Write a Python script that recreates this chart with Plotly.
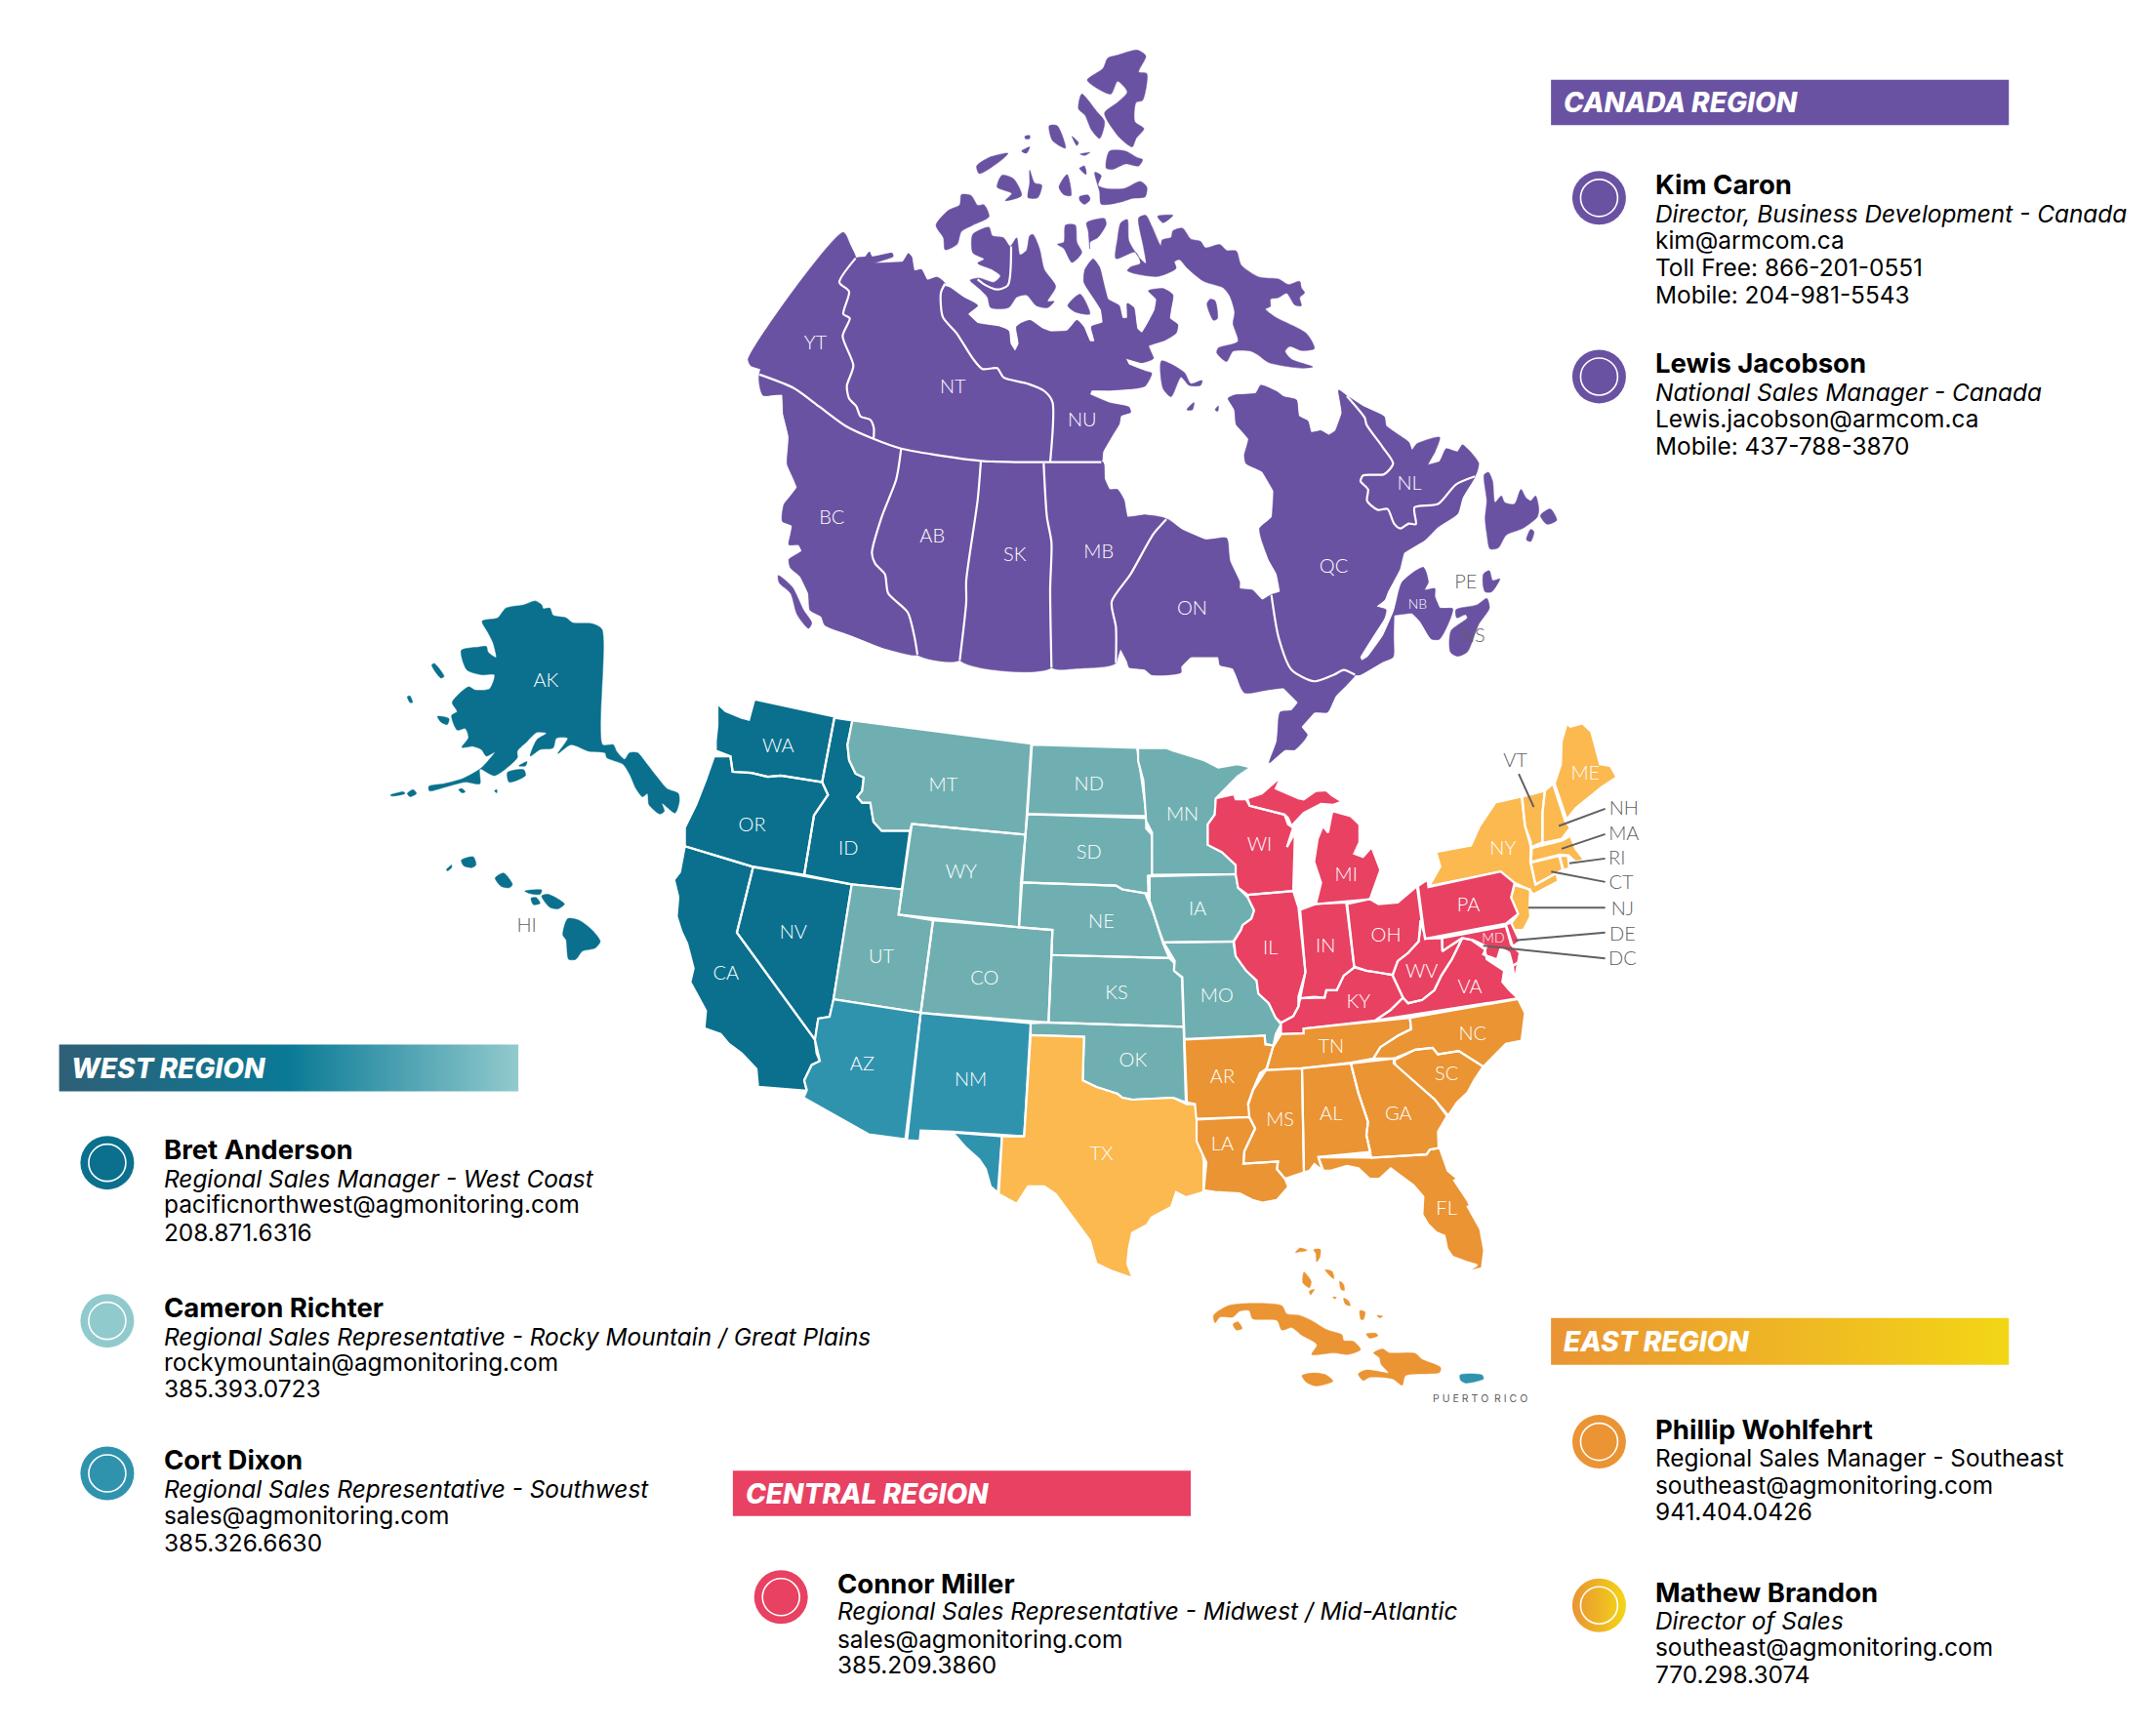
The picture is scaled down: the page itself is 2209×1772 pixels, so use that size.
import plotly.graph_objects as go

FRAMES = {
    "z1": (740, 40, 1 / 3, 680 / 1568),
    "z2": (1180, 340, 1 / 3, 1 / 3),
    "z3": (390, 600, 1 / 3, 1 / 3),
    "z4": (680, 710, 1 / 3, 620 / 1568),
    "z5": (1150, 720, 560 / 1568, 1 / 3),
    "z6": (1200, 1120, 1 / 3, 1 / 3),
    "z9": (1100, 160, 1 / 3, 1 / 3),
}
PX_PER_UNIT = 2209 / 1568

PURPLE = "#6A52A2"
DARK_TEAL = "#0A708E"
LIGHT_TEAL = "#70AFB1"
BLUE = "#3093AE"
YELLOW = "#FBB950"
RED = "#E84162"
ORANGE = "#EA9434"
GREY = "#5F6063"

# Canada, z1
YT = [(372,457),(395,490),(410,518),(360,575),(390,597),(372,650),(392,660),(370,702),(403,772),(383,820),(390,850),(412,868),(425,892),(455,900),(466,920),(465,945),(380,915),(300,870),(220,825),(115,793),(118,780),(88,772),(80,757)]
NT = [(410,518),(440,515),(452,503),(460,515),(522,506),(525,514),(465,530),(555,527),(572,507),(582,515),(590,548),(612,545),(630,570),(660,563),(685,578),(672,600),(678,657),(720,695),(770,755),(800,780),(845,778),(865,800),(940,815),(990,832),(1015,858),(1008,1000),(900,1000),(795,997),(650,982),(550,968),(465,945),(466,920),(455,900),(425,892),(412,868),(390,850),(383,820),(403,772),(370,702),(392,660),(372,650),(390,597),(360,575)]
NU = [(685,585),(700,588),(740,610),(785,630),(755,650),(785,672),(850,680),(880,690),(885,720),(900,738),(912,720),(905,680),(945,665),(985,685),(1010,692),(1060,690),(1090,665),(1110,680),(1130,715),(1145,715),(1135,680),(1170,670),(1165,640),(1112,575),(1115,545),(1140,520),(1160,540),(1185,615),(1220,630),(1230,660),(1245,660),(1245,625),(1265,635),(1275,685),(1290,695),(1310,670),(1330,640),(1335,615),(1310,595),(1355,590),(1385,605),(1375,660),(1400,675),(1395,695),(1360,712),(1310,725),(1325,755),(1290,765),(1240,755),(1250,770),(1300,785),(1320,790),(1300,820),(1275,825),(1190,830),(1135,830),(1130,840),(1190,860),(1250,870),(1255,882),(1225,890),(1220,910),(1200,935),(1170,975),(1165,1000),(1008,1000),(1015,858),(990,832),(940,815),(865,800),(845,778),(800,780),(770,755),(720,695),(678,657),(672,600)]
BC = [(115,793),(220,825),(300,870),(380,915),(465,945),(550,968),(535,1040),(490,1130),(460,1215),(470,1240),(500,1265),(510,1310),(570,1355),(590,1410),(600,1455),(500,1440),(400,1410),(315,1385),(305,1365),(270,1350),(265,1310),(240,1270),(210,1250),(205,1230),(245,1210),(235,1195),(205,1195),(215,1150),(185,1140),(190,1100),(230,1060),(200,1005),(205,940),(188,885),(185,840),(125,842)]
AB = [(550,968),(795,997),(785,1090),(750,1280),(750,1330),(730,1468),(600,1455),(590,1410),(570,1355),(510,1310),(500,1265),(470,1240),(460,1215),(490,1130),(535,1040)]
SK = [(795,997),(988,1003),(998,1130),(1012,1190),(1008,1300),(1012,1485),(730,1468),(750,1330),(750,1280),(785,1090)]
MB = [(988,1003),(1170,1000),(1175,1040),(1190,1065),(1215,1065),(1235,1090),(1245,1130),(1300,1125),(1365,1135),(1325,1170),(1255,1265),(1197,1330),(1210,1390),(1210,1475),(1100,1487),(1012,1485),(1008,1300),(1012,1190),(998,1130)]
VANCOUVER = [(172,1268),(215,1295),(250,1350),(275,1380),(265,1393),(230,1360),(210,1310),(175,1285)]
BANKS = [(657,440),(695,405),(730,392),(735,368),(765,370),(785,393),(805,392),(820,420),(770,440),(735,455),(722,485),(685,498),(680,470)]
VICTORIA = [(770,462),(820,445),(830,465),(865,470),(885,490),(905,470),(915,510),(935,500),(945,465),(955,462),(975,495),(990,545),(1025,585),(1000,620),(1020,620),(1000,635),(965,630),(935,605),(905,610),(880,635),(825,635),(815,610),(790,590),(762,570),(790,565),(835,575),(855,560),(830,545),(785,530),(805,520),(770,505)]
ARCTIC_Z1 = [
    [(782,300),(820,280),(878,270),(860,285),(790,318)],
    [(845,350),(860,322),(895,330),(920,370),(870,382),(890,365)],
    [(945,310),(960,340),(982,345),(970,375),(940,375),(945,340)],
    [(1035,350),(1060,320),(1072,370),(1050,368)],
    [(1098,378),(1130,375),(1115,390)],
    [(1030,485),(1050,480),(1055,440),(1085,440),(1090,480),(1105,505),(1075,528),(1050,495)],
    [(1062,630),(1100,603),(1130,650),(1085,645)],
    [(1122,97),(1170,70),(1185,45),(1215,38),(1275,26),(1302,40),(1280,78),(1305,82),(1292,145),(1272,150),(1268,195),(1296,212),(1272,235),(1260,255),(1220,232),(1175,175),(1215,150),(1245,125),(1215,100),(1195,130),(1160,120)],
    [(1105,130),(1150,170),(1175,195),(1160,235),(1135,215),(1115,180),(1095,165)],
    [(1180,305),(1190,265),(1240,265),(1275,280),(1292,285),(1280,300),(1240,295),(1200,308)],
    [(1005,205),(1030,205),(1055,258),(1015,240)],
    [(930,230),(945,228),(945,235),(932,236)],
    [(920,265),(945,255),(935,270)],
    [(1075,230),(1095,245),(1090,252)],
    [(1100,272),(1130,268),(1115,275)],
    [(1098,305),(1115,305),(1118,320)],
]
# white province borders, z1
Z1_BORDERS = [
    [(888,490),(878,582),(845,592),(810,582),(785,568)],
    [(410,518),(360,575),(390,597),(372,650),(392,660),(370,702),(403,772),(383,820),(390,850),(412,868),(425,892),(455,900),(466,920),(465,945)],
    [(685,578),(672,600),(678,657),(720,695),(770,755),(800,780),(845,778),(865,800),(940,815),(990,832),(1015,858),(1008,1000)],
    [(115,793),(220,825),(300,870),(380,915),(465,945),(550,968),(650,982),(795,997),(900,1000),(1008,1000),(1165,1000)],
    [(550,968),(535,1040),(490,1130),(460,1215),(470,1240),(500,1265),(510,1310),(570,1355),(590,1410),(600,1455)],
    [(795,997),(785,1090),(750,1280),(750,1330),(730,1468)],
    [(988,1003),(998,1130),(1012,1190),(1008,1300),(1012,1485)],
    [(1365,1135),(1325,1170),(1255,1265),(1197,1330),(1210,1390),(1210,1475)],
]
# Canada, z9
BAFFIN = [(200,190),(222,182),(240,215),(268,275),(272,258),(300,250),(305,230),(335,222),(360,255),(390,262),(405,282),(450,272),(470,290),(500,292),(515,335),(570,372),(630,378),(660,395),(695,385),(700,405),(710,420),(695,435),(700,460),(680,458),(655,422),(630,435),(605,440),(605,462),(590,470),(620,495),(715,545),(740,592),(700,598),(665,585),(650,600),(670,625),(735,648),(700,652),(600,635),(565,610),(545,600),(490,600),(470,632),(440,605),(445,590),(505,570),(490,515),(495,480),(480,430),(460,405),(400,385),(350,345),(325,318),(310,325),(315,345),(260,370),(190,362),(165,352),(178,340),(205,330),(190,295),(130,315),(135,255),(145,205),(165,195),(170,260),(200,310),(222,330),(215,280)]
ARCTIC_Z9 = [
    [(40,205),(95,192),(100,210),(75,250),(50,265),(50,285),(45,230)],
    [(65,50),(85,60),(75,90),(100,100),(155,100),(205,78),(225,95),(220,125),(180,130),(150,140),(85,148),(80,110)],
    [(20,38),(33,30),(38,55)],
    [(18,125),(45,120),(50,135),(33,148),(20,138)],
    [(258,185),(305,182),(275,205)],
    [(410,455),(420,440),(435,445),(442,500),(430,505)],
]
# Canada, z2
ON = [(45,576),(95,610),(165,640),(230,635),(240,705),(270,770),(270,790),(310,795),(340,825),(368,810),(390,940),(430,1040),(500,1075),(560,1055),(590,1040),(625,1055),(600,1085),(565,1120),(540,1170),(500,1170),(460,1215),(478,1240),(440,1285),(410,1285),(362,1325),(385,1260),(395,1170),(430,1165),(450,1140),(405,1095),(285,1110),(250,1035),(210,1025),(205,1000),(120,1000),(90,1030),(90,1048),(0,1055),(-21,1038),(-69,1032),(-75,1014),(-96,975),(-111,1020),(-111,909),(-123,831),(-66,747),(6,621)]
QC = [(575,180),(600,198),(655,265),(660,285),(710,355),(742,405),(715,438),(650,442),(642,460),(665,485),(662,520),(695,548),(725,545),(745,590),(765,605),(790,590),(812,592),(808,540),(880,530),(935,470),(993,445),(955,510),(940,560),(880,600),(840,640),(775,680),(762,730),(725,800),(715,825),(690,845),(720,855),(715,880),(640,1000),(645,1012),(665,1000),(712,935),(745,860),(770,770),(835,725),(850,770),(838,795),(870,790),(870,815),(885,850),(925,852),(885,945),(860,945),(825,890),(800,865),(745,872),(742,1000),(710,1015),(640,1055),(625,1055),(590,1040),(560,1055),(500,1075),(430,1040),(390,940),(368,810),(395,800),(385,745),(360,700),(332,605),(370,570),(375,490),(340,430),(290,405),(285,380),(298,330),(260,285),(255,240),(235,205),(255,195),(320,190),(335,165),(385,185),(405,200),(445,210),(452,260),(480,275),(490,310),(520,305),(545,318),(565,305),(585,250)]
NL = [(600,198),(650,230),(715,262),(720,290),(790,340),(800,365),(815,345),(885,325),(870,370),(848,410),(885,400),(905,360),(940,370),(955,348),(980,370),(1005,405),(993,445),(935,470),(880,530),(808,540),(812,592),(790,590),(765,605),(745,590),(725,545),(695,548),(662,520),(665,485),(642,460),(650,442),(715,438),(742,405),(710,355),(660,285),(655,265)]
Z2_BORDERS = [
    [(368,810),(390,940),(430,1040),(500,1075),(560,1055),(590,1040),(625,1055)],
    [(600,198),(655,265),(660,285),(710,355),(742,405),(715,438),(650,442),(642,460),(665,485),(662,520),(695,548),(725,545),(745,590),(765,605),(790,590),(812,592),(808,540),(880,530),(935,470),(993,445)],
]
ATLANTIC = [
    [(1022,440),(1035,432),(1048,460),(1055,525),(1075,505),(1085,525),(1115,530),(1135,485),(1150,510),(1165,520),(1180,505),(1190,545),(1185,570),(1140,605),(1090,625),(1065,665),(1040,668),(1030,620),(1025,575),(1030,520)],
    [(1195,565),(1225,545),(1245,580),(1215,592)],
    [(1152,640),(1165,608),(1175,615),(1165,645)],
    [(1020,745),(1038,735),(1048,765),(1070,760),(1045,800),(1025,800),(1018,775)],
    [(935,855),(1000,840),(1030,820),(1038,850),(1005,900),(970,985),(940,998),(918,985),(920,920),(970,880),(965,870),(938,880)],
    [(108,240),(130,218),(125,240)],
    [(195,240),(205,228),(203,245)],
    [(30,90),(100,125),(120,160),(155,150),(150,165),(115,165),(90,140),(60,200),(35,175)],
]

# Alaska and Hawaii, z3
AK = [(312,110),(360,100),(385,70),(440,60),(475,48),(495,60),(500,72),(520,70),(530,92),(570,100),(590,115),(650,118),(680,135),(682,490),(715,490),(725,510),(750,535),(765,515),(790,515),(815,545),(850,590),(880,625),(915,640),(918,665),(905,700),(865,670),(872,695),(858,703),(825,675),(820,640),(805,650),(785,625),(765,580),(745,550),(695,530),(690,515),(640,510),(585,490),(545,517),(575,470),(540,470),(530,500),(490,505),(460,525),(480,475),(510,455),(480,452),(450,480),(420,510),(420,530),(350,585),(305,565),(305,610),(260,605),(200,620),(150,632),(148,618),(195,610),(250,595),(305,565),(330,540),(352,512),(325,525),(310,505),(285,495),(250,498),(270,468),(260,440),(235,445),(218,400),(235,388),(220,360),(270,312),(290,322),(335,318),(350,275),(310,275),(265,260),(248,200),(300,190),(325,188),(330,205),(355,222),(345,175),(330,145)]
AK_ISLANDS = [
    [(157,245),(165,240),(195,280),(185,285)],
    [(82,342),(90,340),(98,360),(90,360)],
    [(175,403),(210,410),(205,428),(185,420)],
    [(390,575),(440,567),(445,585),(395,605)],
    [(425,555),(450,542),(445,555)],
    [(30,645),(70,635),(75,640),(35,648)],
    [(82,640),(100,628),(110,640),(90,650)],
    [(350,632),(357,628),(357,638)],
    [(240,628),(250,625),(260,635),(250,638)],
]
HI = [
    [(248,845),(285,835),(293,860),(280,868),(255,862)],
    [(202,875),(218,860),(218,868),(205,878)],
    [(352,900),(378,885),(405,920),(395,930),(370,925)],
    [(443,940),(495,937),(490,950),(460,948)],
    [(462,962),(478,960),(490,978),(470,982)],
    [(495,955),(515,950),(565,980),(545,995),(520,990)],
    [(575,1025),(610,1030),(650,1060),(675,1095),(660,1115),(620,1125),(600,1150),(578,1150),(570,1090),(560,1075)],
]

# western states, z4
WA = [(165,28),(190,48),(240,65),(262,70),(270,45),(278,20),(268,15),(525,62),(487,232),(360,215),(320,218),(270,208),(212,205),(205,165),(160,150),(160,125),(165,85)]
OR = [(155,165),(205,165),(212,205),(270,208),(320,218),(360,215),(487,232),(505,265),(462,318),(432,472),(270,450),(65,398),(65,350),(100,290),(130,225)]
ID = [(525,65),(580,72),(565,135),(570,175),(590,210),(615,220),(610,255),(595,270),(610,285),(635,285),(645,335),(670,358),(757,358),(732,510),(578,497),(432,472),(462,318),(505,265),(487,232)]
MT = [(580,72),(1130,132),(1112,368),(763,340),(757,358),(670,358),(645,335),(635,285),(610,285),(595,270),(610,255),(615,220),(590,210),(570,175),(565,135)]
WY = [(763,340),(1112,368),(1092,608),(722,575)]
UT = [(578,497),(732,510),(722,575),(828,590),(790,830),(522,795)]
CO = [(828,590),(1092,608),(1195,615),(1183,855),(790,830)]
NV = [(275,452),(578,497),(522,795),(510,840),(475,845),(465,900),(225,622)]
CA = [(65,398),(275,452),(225,622),(465,900),(470,935),(480,955),(455,965),(432,1005),(440,1032),(290,1022),(285,975),(240,935),(200,910),(175,885),(125,870),(130,825),(82,750),(92,715),(72,650),(55,620),(40,580),(45,530),(32,485),(50,465)]
AZ = [(522,795),(790,830),(743,1158),(630,1145),(430,1050),(440,1030),(432,1005),(455,965),(480,955),(465,900),(475,845),(510,840)]
NM = [(790,830),(1128,857),(1108,1150),(888,1138),(790,1135),(787,1162),(748,1160)]
EL_PASO = [(888,1140),(1040,1150),(1027,1297),(1005,1280),(990,1235),(970,1210),(930,1180)]
TX = [(1128,888),(1292,892),(1288,1005),(1330,1022),(1395,1040),(1410,1050),(1440,1055),(1500,1052),(1566,1050),(1608,1067),(1635,1067),(1640,1100),(1660,1214),(1659,1295),(1605,1308),(1575,1295),(1560,1333),(1500,1360),(1485,1380),(1440,1400),(1430,1440),(1425,1480),(1442,1518),(1380,1500),(1330,1480),(1310,1420),(1240,1340),(1205,1300),(1170,1280),(1120,1280),(1085,1325),(1030,1300),(1040,1150),(1108,1150)]
OK = [(1128,857),(1183,855),(1598,866),(1605,1062),(1566,1050),(1500,1052),(1440,1055),(1410,1050),(1395,1040),(1330,1022),(1288,1005),(1292,892),(1128,888)]
KS = [(1192,680),(1554,688),(1569,700),(1569,721),(1593,739),(1598,866),(1183,855)]
NE = [(1098,492),(1390,500),(1410,510),(1480,520),(1505,570),(1535,650),(1554,688),(1192,680),(1195,615),(1092,608)]
SD = [(1118,315),(1483,325),(1483,352),(1500,368),(1502,472),(1488,475),(1490,520),(1480,520),(1410,510),(1390,500),(1098,492)]
ND = [(1132,135),(1455,143),(1470,230),(1485,320),(1118,315)]

# central and eastern states, z5
MN = [(45,140),(125,140),(145,148),(200,165),(235,178),(275,200),(330,190),(368,200),(330,228),(268,295),(265,345),(245,375),(245,438),(285,460),(325,500),(325,528),(85,530),(85,400),(68,365),(60,240),(45,180)]
IA = [(78,535),(325,528),(332,570),(360,600),(378,640),(370,665),(345,685),(340,700),(318,735),(118,738),(105,700),(78,610)]
MO = [(118,738),(318,735),(325,780),(355,825),(385,855),(390,895),(420,925),(440,970),(455,990),(440,1020),(433,1055),(410,1050),(408,1025),(178,1035),(172,845),(148,825),(150,795)]
AR = [(178,1037),(408,1025),(410,1052),(433,1055),(415,1125),(395,1140),(375,1190),(360,1235),(368,1275),(212,1280),(208,1235),(185,1230)]
TN = [(455,1020),(520,1018),(520,1003),(725,982),(825,970),(828,1005),(790,1025),(740,1060),(720,1095),(655,1108),(515,1125),(412,1130),(432,1060)]
NC = [(825,970),(1135,912),(1155,955),(1145,1040),(1100,1050),(1035,1120),(965,1072),(905,1082),(890,1062),(840,1068),(780,1095),(720,1095),(740,1060),(790,1025),(828,1005)]
SC = [(780,1100),(840,1068),(890,1062),(905,1082),(965,1072),(1035,1120),(1010,1160),(990,1200),(960,1230),(935,1270),(895,1220),(820,1150),(785,1120)]
VA = [(725,978),(1135,910),(1110,885),(1090,860),(1095,825),(1060,800),(1045,790),(1040,760),(1000,730),(975,725),(945,790),(915,840),(895,885),(860,915),(820,925),(805,908),(770,945)]
MD = [(917,725),(1100,688),(1115,745),(1140,770),(1135,800),(1120,810),(1110,770),(1085,755),(1075,790),(1035,775),(1045,750),(1005,730),(975,725),(945,745),(918,765)]
DE = [(1100,682),(1115,678),(1140,735),(1120,750)]
DELMARVA = [(1120,810),(1135,800),(1125,855)]
WV = [(855,670),(870,727),(917,725),(918,765),(945,745),(975,725),(945,790),(915,840),(895,885),(860,915),(820,925),(805,908),(775,840),(790,795),(820,770),(850,735)]
KY = [(510,910),(550,905),(580,908),(585,885),(615,885),(635,840),(665,815),(700,825),(730,830),(775,838),(805,908),(770,945),(725,978),(520,1003),(520,1018),(455,1020),(455,985),(490,965),(505,935)]
OH = [(645,620),(710,605),(735,620),(790,615),(845,565),(858,670),(850,735),(820,770),(790,795),(775,838),(730,830),(700,825),(665,812)]
IN = [(510,638),(555,620),(642,615),(665,815),(635,840),(615,885),(585,885),(580,908),(510,910),(525,830)]
IL = [(360,592),(490,580),(505,630),(525,830),(505,905),(505,935),(490,965),(455,985),(440,970),(420,925),(390,895),(385,855),(355,825),(325,780),(320,735),(340,700),(345,685),(370,665),(378,640),(360,600)]
WI = [(268,295),(320,282),(325,298),(355,298),(365,318),(465,345),(475,375),(490,385),(472,445),(495,400),(490,580),(360,592),(332,570),(325,528),(325,500),(285,460),(245,438),(245,375),(265,345)]
MI_UPPER = [(358,295),(400,280),(455,228),(440,265),(505,295),(520,298),(555,272),(585,270),(600,285),(630,305),(605,315),(570,312),(520,340),(485,380),(475,355),(465,345),(365,318)]
MI_LOWER = [(610,315),(605,335),(655,350),(680,375),(680,430),(665,465),(690,475),(715,445),(740,515),(710,605),(555,620),(570,555),(550,490),(560,420),(575,380),(590,400),(600,345)]
PA = [(848,565),(875,545),(878,568),(1085,520),(1125,555),(1115,600),(1135,650),(1100,680),(868,727)]
NY = [(880,565),(912,505),(900,460),(1000,440),(1025,380),(1070,308),(1145,290),(1155,380),(1172,430),(1170,490),(1185,560),(1245,525),(1250,550),(1180,590),(1165,575),(1125,555),(1085,520)]
NJ = [(1125,562),(1170,575),(1168,620),(1170,660),(1150,700),(1125,700),(1115,680),(1135,650),(1115,600)]
VT = [(1147,290),(1212,272),(1205,340),(1205,430),(1172,445),(1155,380)]
NH = [(1212,272),(1235,250),(1270,365),(1285,385),(1260,420),(1205,432),(1205,340)]
ME = [(1240,250),(1258,190),(1260,120),(1275,65),(1285,75),(1320,65),(1345,90),(1370,190),(1400,195),(1418,230),(1375,260),(1345,285),(1300,325),(1275,360)]
MA = [(1175,448),(1262,425),(1285,410),(1300,450),(1325,485),(1300,490),(1280,470),(1255,468),(1172,490)]
CT = [(1172,493),(1253,472),(1263,515),(1185,560)]
RI = [(1255,472),(1278,472),(1282,510),(1265,515)]

# gulf states and the caribbean, z6
LA = [(78,83),(240,75),(258,110),(225,180),(222,218),(328,212),(325,235),(350,265),(360,290),(325,330),(280,338),(250,330),(210,310),(135,305),(100,300),(108,215),(78,150)]
MS = [(291,-69),(402,-75),(408,245),(395,250),(355,265),(350,265),(325,235),(328,212),(222,218),(225,180),(258,110),(240,75),(237,36),(252,-9)]
AL = [(402,-75),(552,-90),(575,0),(605,90),(600,130),(612,182),(452,198),(465,240),(440,220),(425,240),(408,245)]
GA = [(552,-90),(684,-105),(684,-90),(729,-51),(810,21),(848,72),(820,120),(822,170),(795,175),(785,190),(615,200),(600,130),(605,90),(575,0)]
FL = [(452,198),(612,200),(785,190),(795,175),(825,170),(850,240),(880,265),(870,270),(910,330),(925,360),(910,348),(950,420),(962,485),(955,540),(905,552),(940,530),(905,520),(865,505),(848,480),(840,440),(815,430),(790,405),(772,375),(775,320),(745,285),(675,233),(640,265),(610,265),(575,232),(540,225),(490,240),(468,240)]
CARIBBEAN = [
    [(130,685),(175,655),(245,648),(340,655),(355,680),(395,685),(430,700),(480,730),(525,745),(530,762),(560,765),(582,790),(545,805),(500,800),(432,805),(448,775),(400,745),(370,722),(340,730),(325,700),(250,695),(240,670),(210,672),(190,690),(150,690),(135,708)],
    [(190,712),(205,705),(218,725),(200,730)],
    [(622,800),(650,788),(670,800),(750,802),(770,820),(828,845),(825,860),(720,870),(710,900),(680,880),(610,875),(590,885),(575,865),(600,853),(640,858),(668,862),(645,835),(640,815)],
    [(402,870),(440,862),(475,868),(497,887),(445,902),(415,890)],
    [(382,492),(395,478),(418,485),(390,490)],
    [(438,483),(458,482),(457,505),(447,520),(445,495)],
    [(408,552),(430,580),(425,600),(405,585)],
    [(425,610),(440,605),(428,622)],
    [(473,545),(495,550),(500,572),(490,565)],
    [(518,580),(530,590),(532,608),(522,605)],
    [(497,628),(508,630),(503,634)],
    [(530,632),(545,640),(550,655),(535,650)],
    [(580,670),(596,675),(590,698),(583,697)],
    [(633,685),(650,688),(640,692)],
    [(600,742),(630,740),(635,748),(610,755)],
]
PUERTO_RICO = [(888,868),(955,868),(960,880),(905,893),(890,885)]

# state labels, in the units of the plot axes
WHITE_LABELS = ["YT","NT","NU","BC","AB","SK","MB","ON","QC","NL","AK","WA","OR","ID","CA","NV","MT","WY","UT","CO","AZ","NM","ND","SD","NE","KS","OK","TX","MN","IA","MO","AR","LA","WI","IL","MI","IN","OH","KY","TN","MS","AL","GA","FL","SC","NC","VA","WV","PA","NY","ME"]
WHITE_X = [593,693,787,605,678,738,799,867,970,1025,397,566,547,617,528,577,686,699,641,716,627,706,792,792,801,812,824,801,860,871,885,889,889,916,924,979,964,1008,988,968,931,968,1017,1052,1052,1071,1069,1034,1068,1093,1153]
WHITE_Y = [249,281,305,376,390,403,401,442,412,351,495,542,600,617,708,678,571,634,696,711,774,785,570,620,670,722,771,839,592,661,724,783,832,614,689,636,688,680,728,761,814,810,810,879,781,752,718,706,658,617,562]
GREY_LABELS = ["PE","NS","HI","VT","NH","MA","RI","CT","NJ","DE","DC"]
GREY_X = [1066,1071,383,1102,1181,1181,1176,1179,1180,1180,1180]
GREY_Y = [423,462,673,553,588,606,624,642,661,679,697]
SMALL_LABELS = ["NB","MD"]
SMALL_X = [1031,1086]
SMALL_Y = [439,682]

# leader lines from the grey labels to the small states, z5
LEADERS = [
    [(1137,220),(1180,322)],
    [(1385,327),(1252,380)],
    [(1385,405),(1260,450)],
    [(1385,480),(1282,495)],
    [(1385,552),(1230,520)],
    [(1385,631),(1165,631)],
    [(1385,708),(1125,732)],
    [(1385,787),(1035,748)],
]

# region banners
BANNER_NAMES = ["CANADA REGION", "WEST REGION", "CENTRAL REGION", "EAST REGION"]
BANNER_LEFT = [1128, 43, 533, 1128]
BANNER_RIGHT = [1461, 377, 866, 1461]
BANNER_TOP = [58, 760, 1070, 959]
BANNER_BOTTOM = [91, 794, 1103, 993]
BANNER_COLORS = [
    [[0, PURPLE], [1, PURPLE]],
    [[0, "#2F5F76"], [0.5, "#0A7A96"], [1, "#91CACD"]],
    [[0, RED], [1, RED]],
    [[0, ORANGE], [1, "#F3D616"]],
]

# contacts
CONTACT_X = [1204, 1204, 119, 119, 119, 609, 1204, 1204]
CONTACT_DOT_X = [1163, 1163, 78, 78, 78, 568, 1163, 1163]
CONTACT_DOT_Y = [144, 274, 846, 961, 1072, 1162, 1049, 1168]
CONTACT_COLORS = [PURPLE, PURPLE, DARK_TEAL, "#91CACD", BLUE, RED, ORANGE, ORANGE]
CONTACT_LINES = [
    ["Kim Caron", "Director, Business Development - Canada", "kim@armcom.ca", "Toll Free: 866-201-0551", "Mobile: 204-981-5543"],
    ["Lewis Jacobson", "National Sales Manager - Canada", "Lewis.jacobson@armcom.ca", "Mobile: 437-788-3870"],
    ["Bret Anderson", "Regional Sales Manager - West Coast", "pacificnorthwest@agmonitoring.com", "208.871.6316"],
    ["Cameron Richter", "Regional Sales Representative - Rocky Mountain / Great Plains", "rockymountain@agmonitoring.com", "385.393.0723"],
    ["Cort Dixon", "Regional Sales Representative - Southwest", "sales@agmonitoring.com", "385.326.6630"],
    ["Connor Miller", "Regional Sales Representative - Midwest / Mid-Atlantic", "sales@agmonitoring.com", "385.209.3860"],
    ["Phillip Wohlfehrt", "Regional Sales Manager - Southeast", "southeast@agmonitoring.com", "941.404.0426"],
    ["Mathew Brandon", "Director of Sales", "southeast@agmonitoring.com", "770.298.3074"],
]
CONTACT_LINE_Y = [
    [134, 155, 174, 194, 214],
    [264, 285, 304, 324],
    [836, 857, 876, 896],
    [951, 972, 991, 1010],
    [1062, 1083, 1102, 1122],
    [1152, 1172, 1192, 1211],
    [1040, 1060, 1080, 1099],
    [1158, 1179, 1198, 1218],
]
NOT_ITALIC = ["Regional Sales Manager - Southeast"]

BODY_FONT = "Inter"
MAP_FONT = "Lato"


def to_axes(points, frame):
    ox, oy, kx, ky = FRAMES[frame]
    xs = [(ox + p[0] * kx) / PX_PER_UNIT for p in points]
    ys = [(oy + p[1] * ky) / PX_PER_UNIT for p in points]
    return xs, ys


def add_land(fig, polygons, frame, color, border=2.2, smooth=False):
    xs = []
    ys = []
    for poly in polygons:
        x, y = to_axes(poly + poly[:1], frame)
        xs += x + [None]
        ys += y + [None]
    line = dict(color="white" if border else color, width=border or 0.5)
    if smooth:
        line["shape"] = "spline"
        line["smoothing"] = 0.7
    fig.add_trace(go.Scatter(x=xs, y=ys, mode="lines", fill="toself", fillcolor=color, line=line,
                             hoverinfo="skip", showlegend=False))


def add_path(fig, points, frame, color, width, smooth=False):
    x, y = to_axes(points, frame)
    line = dict(color=color, width=width)
    if smooth:
        line["shape"] = "spline"
        line["smoothing"] = 0.7
    fig.add_trace(go.Scatter(x=x, y=y, mode="lines", line=line, hoverinfo="skip", showlegend=False))


def add_labels(fig, names, xs, ys, color, size):
    fig.add_trace(go.Scatter(x=xs, y=[y + 1.5 for y in ys], mode="text", text=names,
                             textfont=dict(family=MAP_FONT, size=size, color=color, weight=300),
                             hoverinfo="skip", showlegend=False))


fig = go.Figure()

# provinces: straight fill first so the curved one leaves no holes, borders go on top
add_land(fig, [YT, NT, NU, BC, AB, SK, MB], "z1", PURPLE, border=0)
add_land(fig, [YT, NT, NU, BC, AB, SK, MB], "z1", PURPLE, border=0, smooth=True)
add_land(fig, [VANCOUVER, BANKS, VICTORIA] + ARCTIC_Z1, "z1", PURPLE, border=0, smooth=True)
add_land(fig, [BAFFIN] + ARCTIC_Z9, "z9", PURPLE, border=0, smooth=True)
add_land(fig, [ON, QC, NL], "z2", PURPLE, border=0)
add_land(fig, [ON, QC, NL], "z2", PURPLE, border=0, smooth=True)
add_land(fig, ATLANTIC, "z2", PURPLE, border=0, smooth=True)
for border in Z1_BORDERS:
    add_path(fig, border, "z1", "white", 2.2, smooth=True)
for border in Z2_BORDERS:
    add_path(fig, border, "z2", "white", 2.2, smooth=True)

add_land(fig, [AK] + AK_ISLANDS + HI, "z3", DARK_TEAL, border=0, smooth=True)
add_land(fig, [WA, OR, ID, CA, NV], "z4", DARK_TEAL)
add_land(fig, [MT, WY, UT, CO, OK, KS, NE, SD, ND], "z4", LIGHT_TEAL)
add_land(fig, [AZ, NM, EL_PASO], "z4", BLUE)
add_land(fig, [TX], "z4", YELLOW)
add_land(fig, [MN, IA, MO], "z5", LIGHT_TEAL)
add_land(fig, [NY, NJ, VT, NH, ME, MA, CT, RI], "z5", YELLOW)
add_land(fig, [WI, MI_UPPER, MI_LOWER, IL, IN, OH, KY, PA, WV, VA, MD, DE, DELMARVA], "z5", RED)
add_land(fig, [AR, TN, NC, SC], "z5", ORANGE)
add_land(fig, [LA, MS, AL, GA, FL], "z6", ORANGE)
add_land(fig, CARIBBEAN, "z6", ORANGE, border=0, smooth=True)
add_land(fig, [PUERTO_RICO], "z6", BLUE, border=0, smooth=True)

for leader in LEADERS:
    add_path(fig, leader, "z5", GREY, 2)

add_labels(fig, WHITE_LABELS, WHITE_X, WHITE_Y, "white", 20)
add_labels(fig, GREY_LABELS, GREY_X, GREY_Y, GREY, 20)
add_labels(fig, SMALL_LABELS, SMALL_X, SMALL_Y, "white", 14)

annotations = []


def add_text(x, y, text, size, color="black", weight=400, style="normal", family=BODY_FONT):
    annotations.append(dict(x=x, y=y, text=text, showarrow=False, xanchor="left", yanchor="middle",
                            xref="x", yref="y", align="left", xshift=-2, yshift=-0.5,
                            font=dict(family=family, size=size, color=color, weight=weight, style=style)))


for i in range(len(BANNER_NAMES)):
    left, right = BANNER_LEFT[i], BANNER_RIGHT[i]
    top, bottom = BANNER_TOP[i], BANNER_BOTTOM[i]
    fig.add_trace(go.Scatter(x=[left, right, right, left, left], y=[top, top, bottom, bottom, top],
                             mode="lines", line=dict(width=0), fill="toself",
                             fillgradient=dict(type="horizontal", colorscale=BANNER_COLORS[i]),
                             hoverinfo="skip", showlegend=False))
    add_text(left + 9, (top + bottom) / 2, BANNER_NAMES[i], 28, "white", 800, "italic")

for i in range(len(CONTACT_X)):
    dot = dict(color=CONTACT_COLORS[i], size=55, line=dict(width=0))
    if CONTACT_LINES[i][0] == "Mathew Brandon":
        dot["gradient"] = dict(type="horizontal", color="#F3D616")
    fig.add_trace(go.Scatter(x=[CONTACT_DOT_X[i]], y=[CONTACT_DOT_Y[i]], mode="markers", marker=dot,
                             hoverinfo="skip", showlegend=False))
    fig.add_trace(go.Scatter(x=[CONTACT_DOT_X[i]], y=[CONTACT_DOT_Y[i]], mode="markers",
                             marker=dict(color="rgba(0,0,0,0)", size=38, line=dict(width=1.6, color="white")),
                             hoverinfo="skip", showlegend=False))
    for j, line in enumerate(CONTACT_LINES[i]):
        y = CONTACT_LINE_Y[i][j]
        if j == 0:
            add_text(CONTACT_X[i], y, line, 27.5, weight=700)
        elif j == 1 and line not in NOT_ITALIC:
            add_text(CONTACT_X[i], y, line, 24.4, style="italic")
        else:
            add_text(CONTACT_X[i], y, line, 24.4)

add_text(1042, 1017, "P U E R T O  R I C O", 10.5, GREY)

fig.update_layout(
    width=2209,
    height=1772,
    margin=dict(l=0, r=0, t=0, b=0),
    paper_bgcolor="white",
    plot_bgcolor="white",
    showlegend=False,
    annotations=annotations,
    xaxis=dict(range=[0, 1568], visible=False, fixedrange=True),
    yaxis=dict(range=[1258, 0], visible=False, fixedrange=True),
)

fig.write_html("out.html", post_script="document.body.style.margin='0';",
               config={"displayModeBar": False})
